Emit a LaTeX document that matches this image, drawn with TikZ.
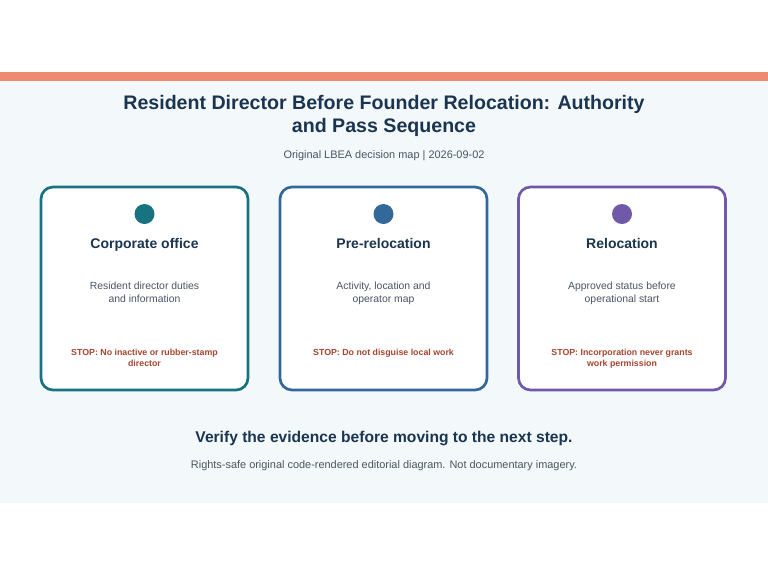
\documentclass[tikz,border=0pt]{standalone}
\usepackage{fontspec}
\setmainfont{Liberation Sans}
\begin{document}
\begin{tikzpicture}[x=0.75pt,y=-0.75pt,
 card/.style={draw=#1,line width=2pt,rounded corners=9pt,fill=white},
 dot/.style={circle,fill=#1,minimum size=15pt,inner sep=0},
 head/.style={font=\fontsize{10.5}{12}\selectfont\bfseries,text=navy,text height=7.5pt,text depth=2pt},
 desc/.style={font=\fontsize{7.8}{10}\selectfont,text=gray7,align=center,anchor=north,inner sep=0},
 stop/.style={font=\fontsize{6.6}{8.3}\selectfont\bfseries,text=stopc,align=center,anchor=north,inner sep=0}]
\definecolor{navy}{HTML}{1B3550}
\definecolor{gray7}{HTML}{4A5562}
\definecolor{stopc}{HTML}{A5452F}
\definecolor{bg}{HTML}{F3F8FB}
\definecolor{orng}{HTML}{EE8A6F}
\definecolor{c1}{HTML}{177380}
\definecolor{c2}{HTML}{33699A}
\definecolor{c3}{HTML}{7059A8}
\useasboundingbox (0,0) rectangle (768,576);
\fill[white] (0,0) rectangle (768,576);
\fill[bg] (0,72) rectangle (768,503);
\fill[orng] (0,72) rectangle (768,81);
\node[font=\fontsize{14.7}{17}\selectfont\bfseries,text=navy,align=center] (title) at (384,116) {Resident Director Before Founder Relocation: Authority\\and Pass Sequence};
\node[font=\fontsize{8.2}{10}\selectfont,text=gray7] (sub) at (384,156) {Original LBEA decision map | 2026-09-02};
\foreach \n/\cx/\col/\h/\ds/\st in {
 a/144.5/c1/Corporate office/{Resident director duties\\and information}/{STOP: No inactive or rubber-stamp\\director},
 b/383.5/c2/Pre-relocation/{Activity, location and\\operator map}/{STOP: Do not disguise local work},
 c/622/c3/Relocation/{Approved status before\\operational start}/{STOP: Incorporation never grants\\work permission}}{
 \draw[card=\col] (\cx-103.5,187) rectangle (\cx+103.5,390);
 \node[dot=\col] (\n dot) at (\cx,214) {};
 \node[head] (\n head) at (\cx,245) {\h};
 \node[desc] (\n desc) at (\cx,281.5) {\ds};
 \node[stop] (\n stop) at (\cx,348.5) {\st};
}
\node[font=\fontsize{11.7}{13}\selectfont\bfseries,text=navy] (verify) at (384,438) {Verify the evidence before moving to the next step.};
\node[font=\fontsize{8.2}{10}\selectfont,text=gray7] (foot) at (384,466) {Rights-safe original code-rendered editorial diagram. Not documentary imagery.};
\end{tikzpicture}
\end{document}
